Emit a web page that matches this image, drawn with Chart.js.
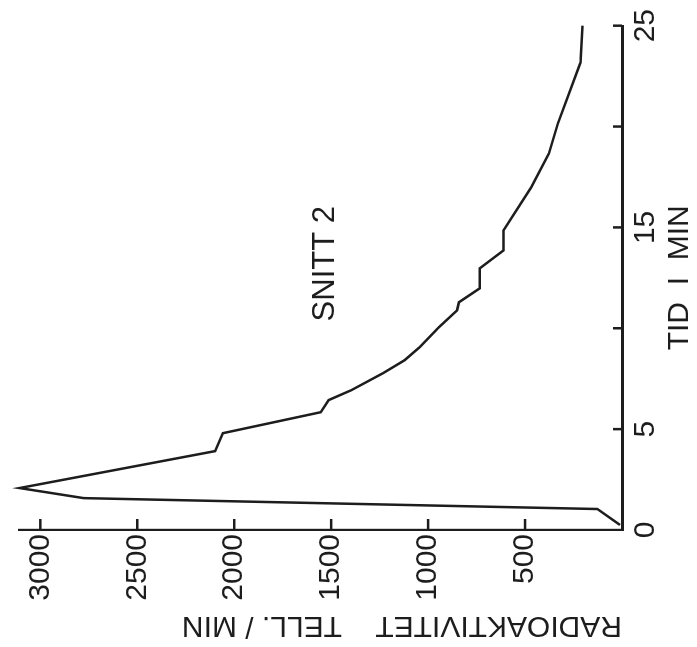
<!DOCTYPE html>
<html>
<head>
<meta charset="utf-8">
<script src="https://cdn.jsdelivr.net/npm/chart.js@4.4.1/dist/chart.umd.min.js"></script>
<style>
html,body{margin:0;padding:0;background:#fff;overflow:hidden;width:697px;height:647px;}
#wrap{position:absolute;left:0;top:0;width:647px;height:697px;transform-origin:0 0;transform:translateY(647px) rotate(-90deg);}
canvas{display:block;}
</style>
</head>
<body>
<div id="wrap"><canvas id="c" width="647" height="697"></canvas></div>
<script>
// ---- data (time in minutes, activity in counts/min) ----
const timeMin  = [0.25, 1.04, 1.58, 2.08, 3.91, 4.80, 5.84, 6.44, 6.93, 7.77, 8.42, 9.06, 10.05, 10.89, 11.29, 11.98, 12.97, 13.86, 14.85, 16.98, 18.66, 20.15, 23.17, 25.0];
const activity = [10, 127, 2776, 3107, 2099, 2058, 1554, 1513, 1396, 1233, 1121, 1044, 944, 851, 841, 734, 734, 611, 611, 469, 377, 331, 214, 204];

const timeTicks = [0, 5, 10, 15, 20, 25];
const timeTickLabels = ['0', '5', '', '15', '', '25'];
const activityTicks = [0, 500, 1000, 1500, 2000, 2500, 3000];
const activityTickLabels = ['', '500', '1000', '1500', '2000', '2500', '3000'];

const xTitle = 'TID  I  MIN';
const yTitle = 'RADIOAKTIVITET    TELL. / MIN';
const noteText = 'SNITT 2';
const noteTime = 13.2;
const noteActivity = 1528;

// ---- styling ----
const ink = '#1d1d1d';
const family = '"Liberation Sans", Arial, sans-serif';

const points = timeMin.map((t, i) => ({x: t, y: activity[i]}));

const inwardTicks = {
  id: 'inwardTicks',
  afterDraw(chart) {
    const {ctx, chartArea: a, scales: {x, y}} = chart;
    ctx.save();
    ctx.strokeStyle = ink;
    ctx.lineWidth = 2.5;
    timeTicks.forEach(t => {
      if (t === 0) return;
      const px = x.getPixelForValue(t);
      ctx.beginPath(); ctx.moveTo(px, a.bottom); ctx.lineTo(px, a.bottom - 9); ctx.stroke();
    });
    activityTicks.forEach(v => {
      if (v === 0) return;
      const py = y.getPixelForValue(v);
      ctx.beginPath(); ctx.moveTo(a.left, py); ctx.lineTo(a.left + 11, py); ctx.stroke();
    });
    ctx.fillStyle = ink;
    ctx.font = '31px ' + family;
    ctx.textAlign = 'center';
    ctx.textBaseline = 'middle';
    ctx.fillText(noteText, x.getPixelForValue(noteTime), y.getPixelForValue(noteActivity));
    ctx.restore();
  }
};

new Chart(document.getElementById('c'), {
  type: 'line',
  data: {
    datasets: [{
      data: points,
      borderColor: ink,
      borderWidth: 2.5,
      pointRadius: 0,
      tension: 0,
      fill: false,
      clip: false
    }]
  },
  options: {
    responsive: false,
    devicePixelRatio: 1,
    animation: false,
    events: [],
    layout: {padding: {top: 13, right: 25, left: 0, bottom: 0}},
    plugins: {legend: {display: false}, tooltip: {enabled: false}},
    scales: {
      x: {
        type: 'linear',
        position: 'bottom',
        min: 0,
        max: 25,
        afterBuildTicks: s => { s.ticks = timeTicks.map(v => ({value: v})); },
        afterFit: s => { s.height = 75; },
        grid: {display: false, drawTicks: false},
        border: {display: true, color: ink, width: 3},
        ticks: {
          autoSkip: false, maxRotation: 0, minRotation: 0,
          padding: 9,
          color: ink,
          font: {family: family, size: 30, lineHeight: 1},
          callback: (v, i) => timeTickLabels[i]
        },
        title: {
          display: true, text: xTitle, color: ink,
          font: {family: family, size: 30, lineHeight: 1},
          padding: {top: 0, bottom: 2}
        }
      },
      y: {
        type: 'linear',
        position: 'left',
        min: 0,
        max: 3110,
        afterBuildTicks: s => { s.ticks = activityTicks.map(v => ({value: v})); },
        afterFit: s => { s.width = 117; },
        grid: {display: false, drawTicks: false},
        border: {display: true, color: ink, width: 2.2, dash: [20, 3]},
        ticks: {
          autoSkip: false,
          padding: 4,
          color: ink,
          font: {family: family, size: 30, lineHeight: 1},
          callback: (v, i) => activityTickLabels[i]
        },
        title: {
          display: true, text: yTitle, color: ink, align: 'start',
          font: {family: family, size: 30, lineHeight: 1},
          padding: {top: 7, bottom: 0}
        }
      }
    }
  },
  plugins: [inwardTicks]
});
</script>
</body>
</html>
